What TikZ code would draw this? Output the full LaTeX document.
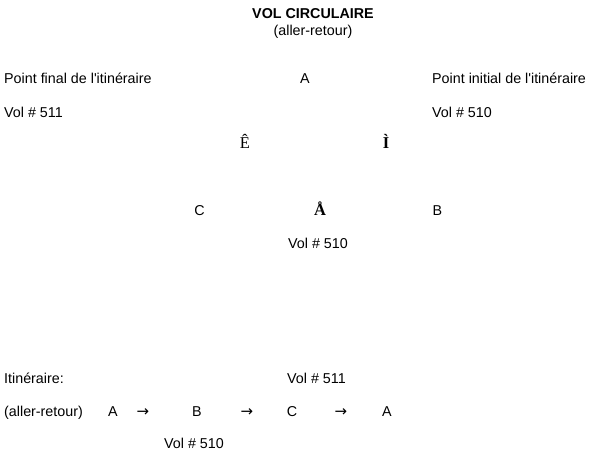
\documentclass[tikz,border=0pt]{standalone}
\usepackage{fontspec}
\setmainfont{Liberation Sans}
\newfontfamily\glyphfont{Liberation Serif}
\newfontfamily\arrowfont{DejaVu Sans}
\usetikzlibrary{positioning}

\begin{document}
\begin{tikzpicture}[x=1pt, y=-1pt]
                \tikzstyle{main} = [inner sep=0pt, text height=10pt, text depth=0pt, font=\fontsize{14.3}{16}\selectfont]
                \tikzstyle{lefttxt} = [main, anchor=west]
                \tikzstyle{glyph} = [inner sep=0pt, anchor=base, font=\fontsize{16.5}{18}\selectfont\glyphfont]
                \tikzstyle{arrowtxt} = [main, font=\fontsize{15}{16}\selectfont\arrowfont]

                \useasboundingbox (0,0) rectangle (590,455);

                % Title
                \node[main, font=\fontsize{14.3}{16}\selectfont\bfseries] (title) at (313,13) {VOL CIRCULAIRE};
                \node[main] (sub) at (313,30) {(aller-retour)};

                % Top row
                \node[lefttxt] (final) at (4,78) {Point final de l\textquotesingle itinéraire};
                \node[main] (topA) at (305,78) {A};
                \node[lefttxt] (initial) at (432,78) {Point initial de l\textquotesingle itinéraire};
                \node[lefttxt] (vol511) at (4,112) {Vol \# 511};
                \node[lefttxt] (vol510) at (432,112) {Vol \# 510};

                % Triangle
                \node[glyph] (gE) at (245,148) {Ê};
                \node[glyph, font=\fontsize{16.5}{18}\selectfont\glyphfont\bfseries] (gI) at (386,148) {Ì};
                \node[main] (C) at (199.5,210) {C};
                \node[glyph, font=\fontsize{16.5}{18}\selectfont\glyphfont\bfseries] (gA) at (320,215) {Å};
                \node[main] (B) at (437.5,210) {B};
                \node[main] (mid510) at (318,243) {Vol \# 510};

                % Itinerary
                \node[lefttxt] (itin) at (4,378) {Itinéraire:};
                \node[lefttxt] (it511) at (287,378) {Vol \# 511};
                \node[lefttxt] (itsub) at (4,411) {(aller-retour)};
                \node[main] (i1) at (113,411) {A};
                \node[arrowtxt] (a1) at (143,411) {→};
                \node[main] (i2) at (197,411) {B};
                \node[arrowtxt] (a2) at (247,411) {→};
                \node[main] (i3) at (292,411) {C};
                \node[arrowtxt] (a3) at (341,411) {→};
                \node[main] (i4) at (387,411) {A};
                \node[lefttxt] (it510) at (164,443) {Vol \# 510};
\end{tikzpicture}
\end{document}
